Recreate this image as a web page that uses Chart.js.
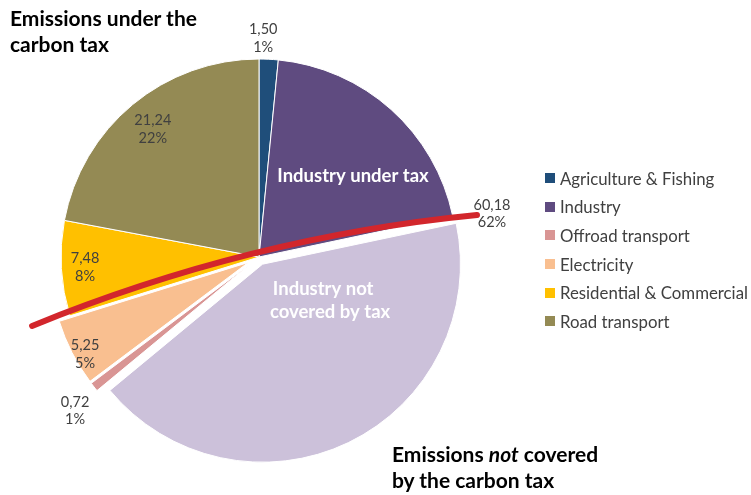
<!DOCTYPE html>
<html><head><meta charset="utf-8">
<script src="https://cdn.jsdelivr.net/npm/chart.js@4.4.1/dist/chart.umd.min.js"></script>
<style>
html,body{margin:0;padding:0;background:#fff;}
#wrap{position:relative;width:751px;height:495px;overflow:hidden;font-family:Lato,"Open Sans",sans-serif;}
canvas{position:absolute;left:0;top:0;}
.note{position:absolute;font-weight:bold;font-size:21px;line-height:26px;color:#000;white-space:nowrap;}
#legend{position:absolute;left:545px;top:164px;}
.li{height:28.6px;display:flex;align-items:center;font-size:16.8px;color:#404040;white-space:nowrap;}
.sw{width:10px;height:10px;margin-right:5px;flex:none;}
</style></head><body>
<div id="wrap">
<canvas id="c" width="751" height="495"></canvas>
<div class="note" style="left:10px;top:5px">Emissions under the<br>carbon tax</div>
<div class="note" style="left:392px;top:441px">Emissions <i>not</i> covered<br>by the carbon tax</div>
<div id="legend"></div>
</div>
<script>
const categories = ['Agriculture & Fishing','Industry','Offroad transport','Electricity','Residential & Commercial','Road transport'];
const emissions = [1.50, 60.18, 0.72, 5.25, 7.48, 21.24];
const valueLabels = ['1,50','60,18','0,72','5,25','7,48','21,24'];
const shareLabels = ['1%','62%','1%','5%','8%','22%'];
const industryUnderTax = 19.40;
const industryNotCovered = 40.78;
const colors = ['#1f4e7a','#5f4b80','#d99594','#f9bf90','#ffc000','#948a54'];
const notCoveredColor = '#ccc1da';

// slices: Agriculture, Industry (under tax), Industry (not covered), Offroad, Electricity, Residential, Road
const pieValues = [emissions[0], industryUnderTax, industryNotCovered, emissions[2], emissions[3], emissions[4], emissions[5]];
const pieLabels = [categories[0], 'Industry under tax', 'Industry not covered by tax', categories[2], categories[3], categories[4], categories[5]];
const pieColors = [colors[0], colors[1], notCoveredColor, colors[2], colors[3], colors[4], colors[5]];
const explode = [0, 0, 8, 12, 12, 0, 0];
const labelRadius = [1.106, 1.197, 1.21, 1.006, 0.88, 0.84];
const labelAngleShift = [-1.7, 1.4, -1.6, -2.1, 0, 0];

// legend
const lg = document.getElementById('legend');
categories.forEach((c, i) => {
  const d = document.createElement('div'); d.className = 'li';
  const s = document.createElement('span'); s.className = 'sw'; s.style.background = colors[i];
  const t = document.createElement('span'); t.textContent = c;
  d.appendChild(s); d.appendChild(t); lg.appendChild(d);
});

const explodePlugin = {
  id: 'explodeSlices',
  beforeDatasetsDraw(chart) {
    const ca = chart.chartArea;
    const cx = (ca.left + ca.right) / 2, cy = (ca.top + ca.bottom) / 2;
    chart.getDatasetMeta(0).data.forEach((a, i) => {
      const m = (a.startAngle + a.endAngle) / 2;
      a.x = cx + Math.cos(m) * explode[i];
      a.y = cy + Math.sin(m) * explode[i];
    });
  }
};

const annotPlugin = {
  id: 'annot',
  afterDatasetsDraw(chart) {
    const ctx = chart.ctx;
    const ca = chart.chartArea;
    const cx = (ca.left + ca.right) / 2, cy = (ca.top + ca.bottom) / 2;
    const arcs = chart.getDatasetMeta(0).data;
    const R = arcs[0].outerRadius;
    // red divider line
    ctx.save();
    ctx.strokeStyle = '#d2262c';
    ctx.lineWidth = 6;
    ctx.lineCap = 'round';
    ctx.beginPath();
    ctx.moveTo(cx - 1.146 * R, cy + 0.348 * R);
    ctx.quadraticCurveTo(cx - 0.045 * R, cy - 0.101 * R, cx + 1.101 * R, cy - 0.212 * R);
    ctx.stroke();
    ctx.restore();

    // in-slice annotations
    ctx.save();
    ctx.fillStyle = '#ffffff';
    ctx.font = 'bold 18.5px Lato, "Open Sans", sans-serif';
    ctx.textBaseline = 'middle';
    ctx.textAlign = 'center';
    ctx.fillText('Industry under tax', cx + 0.475 * R, cy - 0.41 * R);
    ctx.textAlign = 'left';
    ctx.fillText('Industry not', cx + 0.07 * R, cy + 0.16 * R);
    ctx.fillText('covered by tax', cx + 0.055 * R, cy + 0.28 * R);
    ctx.restore();

    // data labels
    const angles = [
      (arcs[0].startAngle + arcs[0].endAngle) / 2,
      arcs[1].endAngle,
      (arcs[3].startAngle + arcs[3].endAngle) / 2,
      (arcs[4].startAngle + arcs[4].endAngle) / 2,
      (arcs[5].startAngle + arcs[5].endAngle) / 2,
      (arcs[6].startAngle + arcs[6].endAngle) / 2
    ];
    ctx.save();
    ctx.fillStyle = '#404040';
    ctx.font = '14.5px Lato, "Open Sans", sans-serif';
    ctx.textAlign = 'center';
    ctx.textBaseline = 'middle';
    angles.forEach((a0, i) => {
      const a = a0 + labelAngleShift[i] * Math.PI / 180;
      const x = cx + Math.cos(a) * R * labelRadius[i];
      const y = cy + Math.sin(a) * R * labelRadius[i];
      ctx.fillText(valueLabels[i], x, y - 8.5);
      ctx.fillText(shareLabels[i], x, y + 9);
    });
    ctx.restore();
  }
};

new Chart(document.getElementById('c'), {
  type: 'pie',
  data: {
    labels: pieLabels,
    datasets: [{
      data: pieValues,
      backgroundColor: pieColors,
      borderColor: '#ffffff',
      borderWidth: 1
    }]
  },
  options: {
    responsive: false,
    animation: false,
    events: [],
    layout: { padding: { left: 60.5, right: 293.5, top: 58.5, bottom: 39.5 } },
    plugins: { legend: { display: false }, tooltip: { enabled: false } }
  },
  plugins: [explodePlugin, annotPlugin]
});
</script>
</body></html>
